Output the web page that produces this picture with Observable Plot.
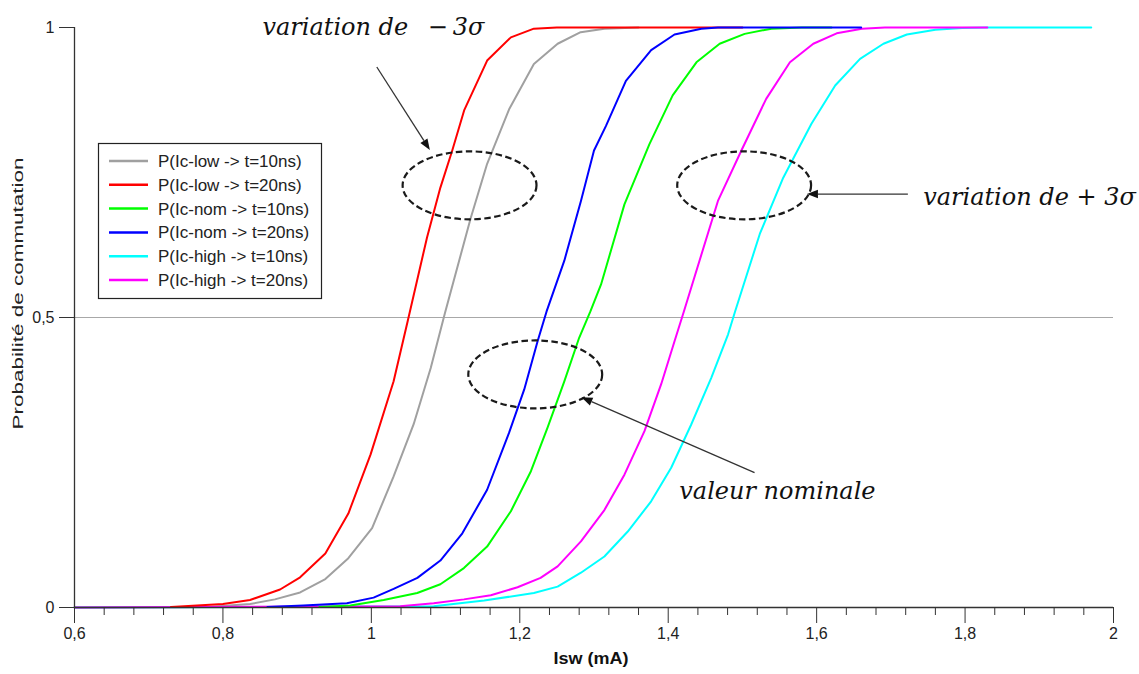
<!DOCTYPE html>
<html>
<head>
<meta charset="utf-8">
<script src="https://cdn.jsdelivr.net/npm/d3@7"></script>
<script src="https://cdn.jsdelivr.net/npm/@observablehq/plot@0.6"></script>
<style>
  body { margin: 0; background: #fff; }
  #chart { width: 1139px; height: 674px; }
</style>
</head>
<body>
<div id="chart"></div>
<script>
// ---- Series (legend order) ----
const seriesNames = [
  "P(Ic-low -> t=10ns)",
  "P(Ic-low -> t=20ns)",
  "P(Ic-nom -> t=10ns)",
  "P(Ic-nom -> t=20ns)",
  "P(Ic-high -> t=10ns)",
  "P(Ic-high -> t=20ns)"
];
const seriesColors = ["#a0a0a0", "#ff0000", "#00ff00", "#0000ff", "#00ffff", "#ff00ff"];
// order in which curves are stacked (first drawn at the bottom)
const drawOrder = [0, 4, 5, 1, 2, 3];

// ---- Values: Isw (mA) and switching probability ----
const xLow10 = [0.60, 0.78, 0.8365, 0.870, 0.904, 0.938, 0.969, 1.001, 1.030, 1.057, 1.080, 1.099, 1.134, 1.156, 1.186, 1.219, 1.251, 1.282, 1.314, 1.36];
const pLow10 = [0, 0.001, 0.006, 0.014, 0.026, 0.049, 0.085, 0.137, 0.226, 0.316, 0.413, 0.507, 0.672, 0.765, 0.860, 0.937, 0.972, 0.992, 0.998, 1];

const xLow20 = [0.73, 0.80, 0.8365, 0.877, 0.904, 0.938, 0.969, 0.999, 1.030, 1.049, 1.075, 1.093, 1.109, 1.125, 1.156, 1.188, 1.219, 1.25, 1.50];
const pLow20 = [0.001, 0.006, 0.013, 0.031, 0.052, 0.093, 0.162, 0.264, 0.390, 0.494, 0.638, 0.724, 0.788, 0.857, 0.943, 0.983, 0.998, 1, 1];

const xNom10 = [0.93, 0.9716, 1.0166, 1.0618, 1.093, 1.1247, 1.156, 1.188, 1.215, 1.2374, 1.260, 1.280, 1.295, 1.3095, 1.341, 1.3747, 1.406, 1.438, 1.4693, 1.503, 1.539, 1.58, 1.62];
const pNom10 = [0.001, 0.0035, 0.013, 0.025, 0.040, 0.068, 0.105, 0.166, 0.235, 0.310, 0.390, 0.465, 0.510, 0.557, 0.695, 0.799, 0.883, 0.940, 0.972, 0.989, 0.998, 1, 1];

const xNom20 = [0.86, 0.9085, 0.967, 1.003, 1.030, 1.062, 1.093, 1.1226, 1.156, 1.1855, 1.206, 1.224, 1.236, 1.260, 1.2824, 1.300, 1.316, 1.343, 1.377, 1.4085, 1.4446, 1.467, 1.66];
const pNom20 = [0.001, 0.0035, 0.0074, 0.017, 0.032, 0.051, 0.081, 0.128, 0.203, 0.301, 0.376, 0.459, 0.510, 0.598, 0.701, 0.788, 0.830, 0.908, 0.961, 0.988, 0.998, 1, 1];

const xHigh10 = [0.60, 1.084, 1.152, 1.219, 1.251, 1.2824, 1.314, 1.3455, 1.377, 1.404, 1.431, 1.458, 1.4807, 1.490, 1.5234, 1.555, 1.593, 1.625, 1.6585, 1.690, 1.7216, 1.76, 1.796, 1.83, 1.97];
const pHigh10 = [0, 0.002, 0.012, 0.025, 0.036, 0.060, 0.088, 0.131, 0.183, 0.241, 0.3155, 0.396, 0.471, 0.510, 0.644, 0.741, 0.834, 0.900, 0.946, 0.972, 0.988, 0.996, 0.999, 1, 1];

const xHigh20 = [0.60, 1.039, 1.084, 1.1247, 1.161, 1.197, 1.228, 1.251, 1.2824, 1.314, 1.341, 1.368, 1.3905, 1.4085, 1.421, 1.467, 1.4986, 1.532, 1.564, 1.5955, 1.627, 1.661, 1.692, 1.83];
const pHigh20 = [0, 0.002, 0.0074, 0.014, 0.021, 0.035, 0.051, 0.071, 0.114, 0.168, 0.229, 0.304, 0.385, 0.459, 0.510, 0.701, 0.788, 0.877, 0.940, 0.972, 0.990, 0.998, 1, 1];

const seriesX = [xLow10, xLow20, xNom10, xNom20, xHigh10, xHigh20];
const seriesP = [pLow10, pLow20, pNom10, pNom20, pHigh10, pHigh20];

// ---- Axes ----
const xMajorTicks = [0.6, 0.8, 1, 1.2, 1.4, 1.6, 1.8, 2];
const xMinorTicks = [0.64, 0.68, 0.72, 0.76, 0.84, 0.88, 0.92, 0.96, 1.04, 1.08, 1.12, 1.16,
  1.24, 1.28, 1.32, 1.36, 1.44, 1.48, 1.52, 1.56, 1.64, 1.68, 1.72, 1.76, 1.84, 1.88, 1.92, 1.96];
const yTicks = [0, 0.5, 1];
const xLabel = "Isw (mA)";
const yLabel = "Probabilité de commutation";

// ---- Annotations (data coordinates) ----
const ellipseCx = [1.133, 1.503, 1.2215];
const ellipseCy = [0.727, 0.727, 0.401];
const ellipseRx = 0.0902;
const ellipseRy = 0.0586;
const arrowFromX = [1.008, 1.7236, 1.517];
const arrowFromY = [0.931, 0.712, 0.2316];
const arrowToX = [1.0795, 1.5876, 1.2838];
const arrowToY = [0.788, 0.712, 0.3616];
const noteTexts = ["variation de \u2002\u2212\u20093\u03C3", "variation de + 3\u03C3", "valeur nominale"];
const noteX = [0.8532, 1.7435, 1.4149];
const noteY = [1.0, 0.707, 0.1995];

// ---- Build table ----
const rows = [];
for (const s of drawOrder) {
  seriesX[s].forEach((x, i) => rows.push({series: seriesNames[s], x, p: seriesP[s][i]}));
}
const fmt = d => d3.format("~g")(d).replace(".", ",");
const notes = noteTexts.map((t, i) => ({t, x: noteX[i], y: noteY[i]}));

const sansFont = "'Liberation Sans', Arial, sans-serif";
const mathFont = "'DejaVu Serif', serif";

function annotationMark(index, scales) {
  const {x, y} = scales;
  const g = d3.create("svg:g");
  ellipseCx.forEach((cx, i) => {
    g.append("ellipse")
      .attr("cx", x(cx)).attr("cy", y(ellipseCy[i]))
      .attr("rx", Math.abs(x(cx + ellipseRx) - x(cx)))
      .attr("ry", Math.abs(y(ellipseCy[i] + ellipseRy) - y(ellipseCy[i])))
      .attr("fill", "none").attr("stroke", "#1a1a1a")
      .attr("stroke-width", 2.2).attr("stroke-dasharray", "6.5,3.5");
  });
  arrowFromX.forEach((fx, i) => {
    const x1 = x(fx), y1 = y(arrowFromY[i]), x2 = x(arrowToX[i]), y2 = y(arrowToY[i]);
    const a = Math.atan2(y2 - y1, x2 - x1);
    const L = 11, W = 4.2;
    const bx = x2 - L * Math.cos(a), by = y2 - L * Math.sin(a);
    g.append("line").attr("x1", x1).attr("y1", y1).attr("x2", bx).attr("y2", by)
      .attr("stroke", "#333").attr("stroke-width", 1.3);
    g.append("path")
      .attr("d", `M${x2},${y2}L${bx - W * Math.sin(a)},${by + W * Math.cos(a)}L${bx + W * Math.sin(a)},${by - W * Math.cos(a)}Z`)
      .attr("fill", "#111");
  });
  return g.node();
}

function legendMark(index, scales) {
  const g = d3.create("svg:g");
  const left = 98.5, top = 143.5, w = 223, h = 155, rowH = 23.8, firstRow = 161;
  g.append("rect").attr("x", left).attr("y", top).attr("width", w).attr("height", h)
    .attr("fill", "#fff").attr("stroke", "#222").attr("stroke-width", 1.2);
  seriesNames.forEach((name, i) => {
    const yy = firstRow + i * rowH;
    g.append("line").attr("x1", 109).attr("x2", 148).attr("y1", yy).attr("y2", yy)
      .attr("stroke", seriesColors[i]).attr("stroke-width", 2.5);
    g.append("text").attr("x", 158).attr("y", yy).attr("dy", "0.35em")
      .attr("text-anchor", "start")
      .attr("font-family", sansFont).attr("font-size", 17).attr("fill", "#222")
      .text(name);
  });
  return g.node();
}

const chart = Plot.plot({
  width: 1139,
  height: 674,
  marginLeft: 74,
  marginRight: 26,
  marginTop: 27,
  marginBottom: 67,
  style: {fontFamily: sansFont, fontSize: "16px", color: "#222", background: "#fff"},
  x: {domain: [0.6, 2], axis: null},
  y: {domain: [0, 1], axis: null},
  color: {domain: seriesNames, range: seriesColors},
  marks: [
    Plot.ruleY([0.5], {stroke: "#a8a8a8", strokeWidth: 1}),
    Plot.line(rows, {x: "x", y: "p", z: "series", stroke: "series", strokeWidth: 2, curve: "linear"}),
    Plot.ruleX([0.6], {stroke: "#333", strokeWidth: 1.3}),
    Plot.ruleY([0], {stroke: "#333", strokeWidth: 1.3}),
    Plot.axisY({ticks: yTicks, tickSize: 15, tickPadding: 5, tickFormat: fmt, label: null, stroke: "#333", fontSize: 16}),
    Plot.axisX({ticks: xMajorTicks, tickSize: 16, tickPadding: 4, tickFormat: fmt, label: null, stroke: "#333", fontSize: 16}),
    Plot.axisX({ticks: xMinorTicks, tickSize: 8, tickFormat: () => "", label: null, stroke: "#333"}),
    Plot.text([xLabel], {frameAnchor: "bottom", dx: -3, dy: 56, fontWeight: "bold", fontSize: 16, fill: "#111"}),
    Plot.text([yLabel], {frameAnchor: "left", rotate: -90, dx: -56, dy: -24, textAnchor: "middle", fontSize: 15, fill: "#222"}),
    annotationMark,
    legendMark,
    Plot.text(notes, {x: "x", y: "y", text: "t", textAnchor: "start", lineAnchor: "middle",
      fontFamily: mathFont, fontStyle: "italic", fontSize: 24, fill: "#111"})
  ]
});
// tick labels at the reference's size
d3.select(chart).selectAll('g[aria-label$="tick label"]')
  .style("font-size", "16px").attr("font-size", 16).attr("fill", "#222")
  .selectAll("text").style("font-size", "16px");
// the reference draws its axis titles slightly stretched along their length
d3.select(chart).selectAll("text")
  .filter(function () { return this.textContent === yLabel; })
  .attr("textLength", 272).attr("lengthAdjust", "spacingAndGlyphs");
d3.select(chart).selectAll("text")
  .filter(function () { return this.textContent === xLabel; })
  .attr("textLength", 75).attr("lengthAdjust", "spacingAndGlyphs");
document.getElementById("chart").append(chart);
</script>
</body>
</html>
